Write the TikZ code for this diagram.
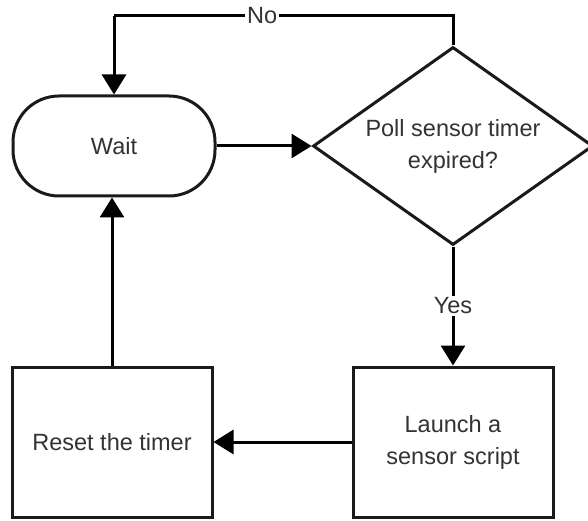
\documentclass[tikz,border=0pt]{standalone}
\usepackage{fontspec}
\setmainfont{Liberation Sans}
\usetikzlibrary{shapes.geometric,arrows.meta}
\definecolor{txt}{HTML}{333333}
\definecolor{edge}{HTML}{1A1A1A}
\begin{document}
\begin{tikzpicture}[x=1pt,y=-1pt,
  every node/.style={font=\fontsize{23.5}{32}\selectfont, text=txt},
  box/.style={draw=edge, line width=3pt, fill=white, align=center, inner sep=0pt},
  conn/.style={draw=black, line width=3pt, -{Triangle[length=20pt,width=24pt]}},
  plain/.style={draw=black, line width=3pt},
  lbl/.style={fill=white, inner sep=2pt}]
\useasboundingbox (0,0) rectangle (588,521);
\node[box, minimum width=202pt, minimum height=100pt, rounded corners=46pt] (wait) at (114,146) {Wait};
\node[box, diamond, aspect=1.414, minimum width=280pt, minimum height=198pt] (poll) at (453,146) {Poll sensor timer\\expired?};
\node[box, minimum width=200pt, minimum height=150pt] (launch) at (453,442) {Launch a\\sensor script};
\node[box, minimum width=200pt, minimum height=150pt] (reset) at (112,442) {Reset the timer};
\coordinate (nr) at (453,16);
\coordinate (nl) at (114,16);
\draw[conn] (wait.east) -- (poll.west);
\draw[conn] (poll.south) -- node[lbl, pos=0.5] {Yes} (launch.north);
\draw[conn] (launch.west) -- (reset.east);
\draw[conn] (reset.north) -- (reset.north |- wait.south);
\draw[plain] (poll.north) -- (nr) -- node[lbl, pos=0.563] {No} (nl);
\draw[conn] (nl) -- (wait.north);
\end{tikzpicture}
\end{document}
